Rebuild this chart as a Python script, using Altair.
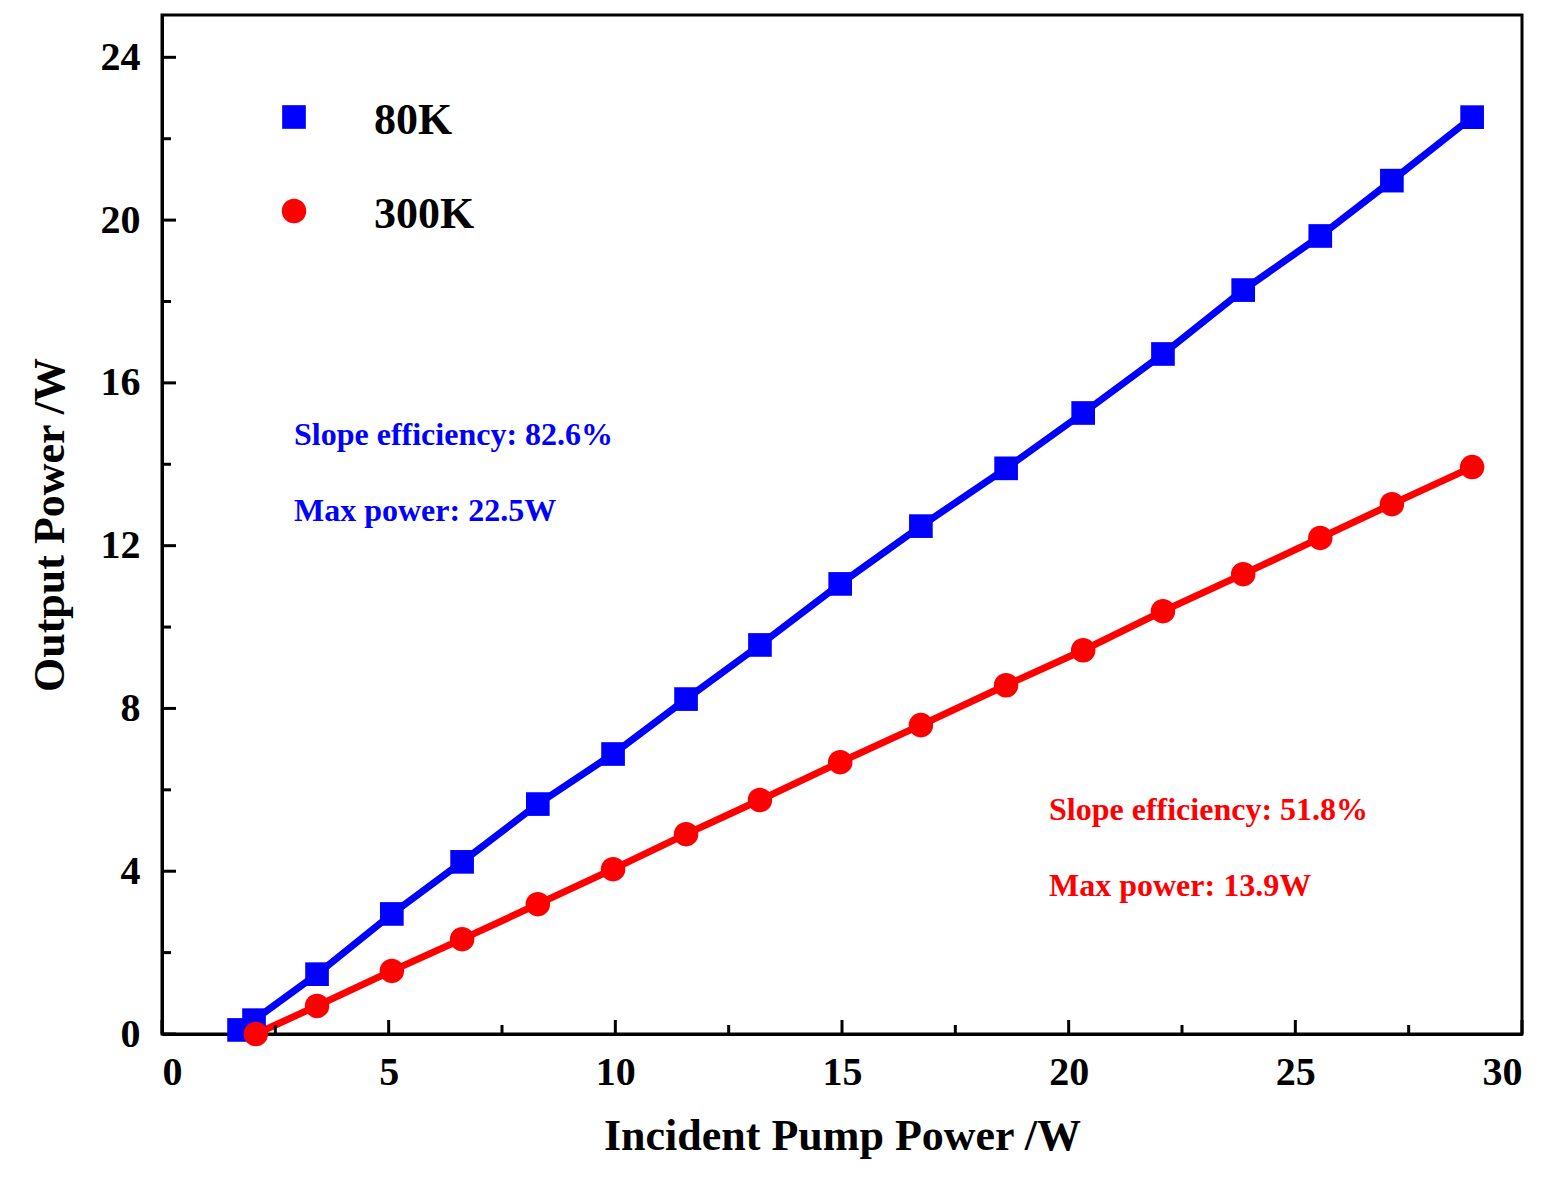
import altair as alt
import pandas as pd

bx = [1.70, 2.03, 3.42, 5.07, 6.62, 8.29, 9.95, 11.56, 13.19, 14.96, 16.74, 18.62, 20.32, 22.08, 23.85, 25.55, 27.13, 28.90]
by = [0.10, 0.34, 1.47, 2.95, 4.23, 5.65, 6.88, 8.23, 9.56, 11.06, 12.48, 13.90, 15.26, 16.71, 18.28, 19.61, 20.97, 22.53]
rx = [2.07, 3.42, 5.07, 6.62, 8.29, 9.95, 11.56, 13.19, 14.96, 16.74, 18.62, 20.32, 22.08, 23.85, 25.55, 27.13, 28.90]
ry = [0.00, 0.69, 1.55, 2.33, 3.19, 4.05, 4.91, 5.75, 6.68, 7.59, 8.57, 9.43, 10.39, 11.30, 12.19, 13.02, 13.93]
xticks = [0, 5, 10, 15, 20, 25, 30]
xminor = [2.5, 7.5, 12.5, 17.5, 22.5, 27.5]
yticks = [0, 4, 8, 12, 16, 20, 24]
yminor = [2, 6, 10, 14, 18, 22]

W, H = 1360, 1019
F = "Liberation Serif"
blue, red = "#0000ff", "#ff0000"

b = pd.DataFrame({"x": bx, "y": by})
r = pd.DataFrame({"x": rx, "y": ry})
xs = alt.Scale(domain=[0, 30], nice=False)
ys = alt.Scale(domain=[0, 25.04], nice=False)
X = alt.X("x:Q", scale=xs, title="Incident Pump Power /W",
          axis=alt.Axis(values=xticks, ticks=False, grid=False, domainWidth=3, domainColor="black",
                        labelFont=F, labelFontSize=40, labelFontWeight="bold", labelColor="black",
                        labelPadding=18, titleFont=F, titleFontSize=44, titleFontWeight="bold",
                        titleColor="black", titlePadding=22))
Y = alt.Y("y:Q", scale=ys, title="Output Power /W",
          axis=alt.Axis(values=yticks, ticks=False, grid=False, domainWidth=3, domainColor="black",
                        labelFont=F, labelFontSize=40, labelFontWeight="bold", labelColor="black",
                        labelPadding=22, titleFont=F, titleFontSize=44, titleFontWeight="bold",
                        titleColor="black", titlePadding=28))

bl = alt.Chart(b).mark_line(color=blue, strokeWidth=7).encode(x=X, y=Y)
bp = alt.Chart(b).mark_point(shape="square", filled=True, opacity=1, color=blue, size=560).encode(x="x:Q", y="y:Q")
rl = alt.Chart(r).mark_line(color=red, strokeWidth=7).encode(x="x:Q", y="y:Q")
rp = alt.Chart(r).mark_point(shape="circle", filled=True, opacity=1, color=red, size=600).encode(x="x:Q", y="y:Q")

def xt(vals, L):
    return alt.Chart(pd.DataFrame({"x": vals})).mark_rule(color="black", strokeWidth=3).encode(
        x=alt.X("x:Q", scale=xs), y=alt.value(H), y2=alt.value(H - L))
def yt(vals, L):
    return alt.Chart(pd.DataFrame({"y": vals})).mark_rule(color="black", strokeWidth=3).encode(
        y=alt.Y("y:Q", scale=ys), x=alt.value(0), x2=alt.value(L))

def txt(s, px, py, color, size, align="left"):
    return alt.Chart(pd.DataFrame({"t": [s]})).mark_text(
        font=F, fontWeight="bold", fontSize=size, color=color, align=align, baseline="middle").encode(
        text="t:N", x=alt.value(px), y=alt.value(py))

lgb = alt.Chart(pd.DataFrame({"a": [0]})).mark_point(shape="square", filled=True, opacity=1, color=blue, size=560).encode(
    x=alt.value(132), y=alt.value(102))
lgr = alt.Chart(pd.DataFrame({"a": [0]})).mark_point(shape="circle", filled=True, opacity=1, color=red, size=600).encode(
    x=alt.value(132), y=alt.value(196))

chart = alt.layer(
    bl, rl, bp, rp,
    xt(xticks, 14), xt(xminor, 9), yt(yticks, 14), yt(yminor, 9),
    lgb, lgr,
    txt("80K", 212, 106, "black", 44), txt("300K", 212, 200, "black", 44),
    txt("Slope efficiency: 82.6%", 132, 420, blue, 32),
    txt("Max power: 22.5W", 132, 496, blue, 32),
    txt("Slope efficiency: 51.8%", 887, 795, red, 32),
    txt("Max power: 13.9W", 887, 871, red, 32),
).properties(width=W, height=H, background="white",
             padding={"left": 20, "top": 7, "right": 5, "bottom": 5}
).configure_view(stroke="black", strokeWidth=3)

chart.save("out.html", embed_options={"renderer": "svg", "actions": False})
